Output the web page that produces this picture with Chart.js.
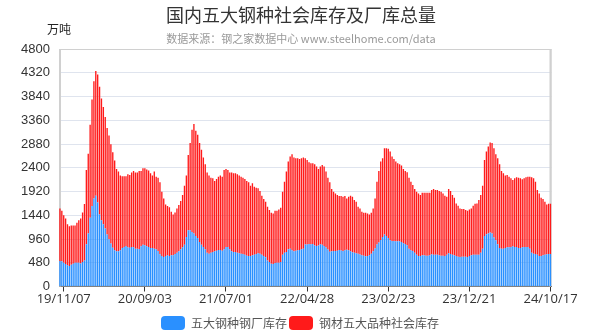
<!DOCTYPE html>
<html>
<head>
<meta charset="utf-8">
<script src="https://cdn.jsdelivr.net/npm/chart.js@4.4.1/dist/chart.umd.min.js"></script>
<style>
body { margin: 0; background: #fff; }
#wrap { width: 600px; height: 336px; }
</style>
</head>
<body>
<div id="wrap"><canvas id="chart" width="600" height="336"></canvas></div>
<script>
// weekly data, first week 2019-10-24
const startDate = [2019, 9, 24];
const tickLabels = ['19/11/07', '20/09/03', '21/07/01', '22/04/28', '23/02/23', '23/12/21', '24/10/17'];

// 五大钢种钢厂库存 (万吨)
const millStock = [
    515, 508, 480, 454, 427, 413, 440, 460, 480, 480,
    480, 467, 494, 528, 853, 1070, 1388, 1625, 1780, 1835,
    1700, 1456, 1340, 1259, 1171, 1049, 955, 867, 785, 731,
    711, 711, 731, 779, 799, 819, 792, 785, 799, 792,
    765, 765, 760, 812, 846, 833, 812, 799, 779, 779,
    765, 751, 718, 650, 616, 596, 616, 630, 616, 630,
    630, 657, 684, 711, 751, 792, 846, 1002, 1137, 1137,
    1104, 1070, 1022, 982, 900, 846, 799, 751, 684, 663,
    684, 697, 711, 724, 738, 738, 724, 751, 799, 799,
    751, 711, 697, 697, 684, 670, 663, 657, 643, 623,
    616, 616, 630, 643, 657, 670, 663, 643, 616, 589,
    528, 494, 460, 454, 474, 480, 480, 494, 643, 684,
    697, 751, 765, 731, 711, 724, 731, 738, 751, 765,
    850, 850, 860, 855, 860, 830, 820, 830, 855, 845,
    820, 790, 750, 700, 710, 715, 720, 725, 740, 730,
    715, 735, 745, 735, 710, 690, 680, 670, 660, 645,
    630, 620, 610, 615, 630, 660, 710, 770, 850, 890,
    940, 1000, 1050, 1022, 982, 934, 921, 921, 914, 914,
    914, 900, 873, 860, 833, 765, 731, 718, 684, 643,
    616, 616, 630, 630, 623, 623, 630, 650, 643, 643,
    643, 630, 623, 623, 616, 643, 670, 657, 643, 630,
    616, 602, 596, 602, 602, 602, 596, 616, 630, 643,
    643, 643, 643, 684, 765, 1022, 1056, 1070, 1090, 1070,
    988, 934, 853, 779, 765, 765, 779, 792, 792, 799,
    812, 799, 799, 779, 779, 792, 799, 799, 799, 765,
    684, 663, 657, 643, 616, 616, 630, 643, 650, 657,
    657
];

// 钢材五大品种社会库存 (万吨)
const socialStock = [
    1062, 1022, 962, 920, 832, 806, 792, 772, 752, 806,
    860, 907, 1002, 1137, 1503, 1611, 1882, 2153, 2370, 2518,
    2585, 2579, 2458, 2370, 2254, 2153, 2098, 2010, 1930, 1815,
    1665, 1611, 1510, 1448, 1428, 1408, 1476, 1469, 1503, 1544,
    1537, 1537, 1576, 1524, 1544, 1557, 1551, 1543, 1509, 1462,
    1557, 1469, 1482, 1455, 1300, 1184, 1043, 995, 988, 880,
    826, 839, 893, 934, 975, 1056, 1192, 1239, 1523, 1761,
    2064, 2213, 2126, 2085, 1998, 1916, 1807, 1720, 1618, 1578,
    1516, 1490, 1422, 1449, 1482, 1503, 1496, 1605, 1577, 1557,
    1551, 1591, 1591, 1591, 1584, 1571, 1557, 1543, 1530, 1510,
    1489, 1422, 1455, 1374, 1340, 1314, 1267, 1192, 1151, 1124,
    1083, 1050, 1029, 1022, 1056, 1050, 1077, 1097, 1273, 1435,
    1625, 1774, 1862, 1943, 1895, 1869, 1862, 1841, 1842, 1841,
    1743, 1709, 1652, 1636, 1631, 1641, 1604, 1546, 1569, 1612,
    1604, 1532, 1450, 1405, 1260, 1201, 1162, 1123, 1088, 1098,
    1099, 1093, 1035, 1079, 1125, 1124, 1067, 1043, 951, 932,
    880, 869, 879, 861, 826, 829, 867, 1010, 1269, 1446,
    1585, 1593, 1746, 1774, 1800, 1794, 1706, 1658, 1611, 1577,
    1557, 1544, 1503, 1476, 1476, 1435, 1388, 1333, 1286, 1273,
    1266, 1232, 1266, 1266, 1273, 1273, 1266, 1300, 1327, 1307,
    1307, 1300, 1293, 1259, 1219, 1171, 1300, 1273, 1205, 1164,
    1063, 1030, 981, 962, 962, 942, 934, 941, 947, 989,
    1029, 1036, 1104, 1164, 1273, 1537, 1672, 1760, 1821, 1828,
    1808, 1740, 1740, 1692, 1571, 1523, 1462, 1462, 1428, 1388,
    1341, 1388, 1408, 1421, 1408, 1374, 1388, 1408, 1421, 1455,
    1523, 1524, 1462, 1307, 1266, 1178, 1137, 1070, 1009, 1015,
    1015
];

const pad = n => String(n).padStart(2, '0');
const categories = millStock.map((_, i) => {
    const d = new Date(Date.UTC(startDate[0], startDate[1], startDate[2]) + i * 7 * 86400000);
    return pad(d.getUTCFullYear() % 100) + '/' + pad(d.getUTCMonth() + 1) + '/' + pad(d.getUTCDate());
});
const isTick = i => tickLabels.includes(categories[i]);

const texts = {
    id: 'texts',
    beforeDatasetsDraw(chart) {
        const { ctx, chartArea: a } = chart;
        ctx.save();
        ctx.strokeStyle = '#d0d0d0';
        ctx.lineWidth = 1;
        ctx.strokeRect(a.left + 0.5, a.top + 0.5, a.right - a.left - 1, a.bottom - a.top - 1);
        ctx.lineWidth = 2;
        ctx.beginPath();
        ctx.moveTo(a.left + 1, a.top);
        ctx.lineTo(a.left + 1, a.bottom);
        ctx.moveTo(a.right - 1, a.top);
        ctx.lineTo(a.right - 1, a.bottom);
        ctx.stroke();
        ctx.restore();
    },
    afterDraw(chart) {
        const ctx = chart.ctx;
        ctx.save();
        ctx.textBaseline = 'middle';
        ctx.textAlign = 'center';
        ctx.fillStyle = '#333';
        ctx.font = '18px "Noto Sans CJK SC", sans-serif';
        ctx.fillText('国内五大钢种社会库存及厂库总量', 301, 15);
        ctx.fillStyle = '#999';
        ctx.font = '11px "Noto Sans CJK SC", monospace';
        ctx.fillText('数据来源：钢之家数据中心 www.steelhome.com/data', 301, 39);
        ctx.textAlign = 'left';
        ctx.fillStyle = '#222';
        ctx.font = '12px "Noto Sans CJK SC", sans-serif';
        ctx.fillText('万吨', 47, 29);
        ctx.restore();
    }
};

new Chart(document.getElementById('chart'), {
    type: 'bar',
    data: {
        labels: categories,
        datasets: [
            { label: '五大钢种钢厂库存', data: millStock, backgroundColor: '#2a90ff' },
            { label: '钢材五大品种社会库存', data: socialStock, backgroundColor: '#ff1a1a' }
        ]
    },
    options: {
        responsive: false,
        animation: false,
        layout: { padding: { top: 49, right: 0, bottom: -4, left: 0 } },
        datasets: { bar: { categoryPercentage: 1, barPercentage: 0.72 } },
        plugins: {
            tooltip: { enabled: false },
            legend: {
                position: 'bottom',
                labels: {
                    boxWidth: 24, boxHeight: 14, useBorderRadius: true, borderRadius: 4,
                    padding: 2, color: '#555',
                    font: { size: 12, family: '"Noto Sans CJK SC", sans-serif' }
                }
            }
        },
        scales: {
            x: {
                stacked: true,
                grid: {
                    offset: false, drawOnChartArea: false, tickLength: 5,
                    color: c => isTick(c.index) ? '#333' : 'rgba(0,0,0,0)'
                },
                border: { color: '#333' },
                ticks: {
                    autoSkip: false, maxRotation: 0, minRotation: 0, padding: 0,
                    color: '#333', font: { size: 13, family: '"Open Sans", sans-serif' },
                    callback: (v, i) => isTick(i) ? categories[i] : ''
                },
                afterFit: s => { s.height = 27.5; }
            },
            y: {
                stacked: true,
                min: 0, max: 4800,
                ticks: {
                    stepSize: 480, padding: 9, color: '#333',
                    font: { size: 13, family: '"Liberation Sans", Arial, sans-serif' },
                    callback: v => String(v)
                },
                grid: { color: '#dfe4ee', drawTicks: false },
                border: { display: false },
                afterFit: s => { s.width = 59; }
            },
            yRight: {
                position: 'right',
                display: true,
                min: 0, max: 4800,
                grid: { display: false },
                border: { display: false },
                ticks: { display: false },
                afterFit: s => { s.width = 48.5; }
            }
        }
    },
    plugins: [texts]
});
</script>
</body>
</html>
